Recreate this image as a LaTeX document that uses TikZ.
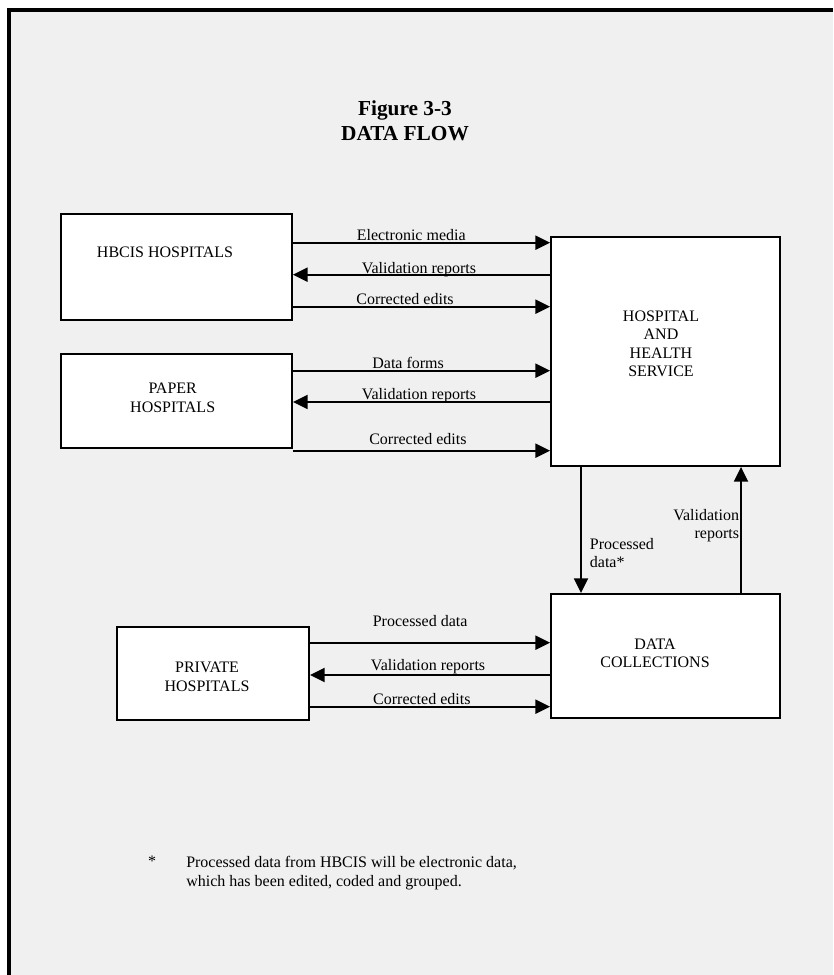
\documentclass[tikz,border=0pt]{standalone}
\usepackage{fontspec}
\setmainfont{Liberation Serif}
\usetikzlibrary{arrows.meta,positioning}
\definecolor{pagegrey}{HTML}{F0F0F0}
\tikzset{
  hospbox/.style={draw=black,fill=white,line width=1.4pt,inner sep=0pt},
  boxtext/.style={align=center,font=\fontsize{12}{13.9}\selectfont,inner sep=0pt},
  flowarrow/.style={-{Triangle[length=11pt,width=10.5pt]},line width=1.4pt},
  flowlabel/.style={anchor=base,inner sep=0pt,yshift=#1,font=\fontsize{12}{13.9}\selectfont},
  flowlabel/.default=1.5pt,
  sidelabel/.style={inner sep=0pt,font=\fontsize{12}{13.9}\selectfont},
  framerule/.style={line width=3pt,draw=black}
}

\begin{document}
\begin{tikzpicture}[x=0.75pt,y=0.75pt]
  \useasboundingbox (0,0) rectangle (833,975);
  \fill[white] (0,0) rectangle (833,975);
  \fill[pagegrey] (7,0) rectangle (833,967);
  \draw[framerule] (9,0) -- (9,967);
  \draw[framerule] (7,965) -- (833,965);

  % title
  \node[font=\fontsize{16}{18.5}\selectfont\bfseries,align=center,anchor=south,inner sep=0pt] (title) at (405,834) {Figure 3-3\\DATA FLOW};

  % boxes
  \node[hospbox,minimum width=173.25pt,minimum height=79.5pt] (hbcis) at (176.5,708) {};
  \node[hospbox,minimum width=173.25pt,minimum height=70.5pt] (paper) at (176.5,574) {};
  \node[hospbox,minimum width=171.75pt,minimum height=171.75pt] (hhs) at (665.5,623.5) {};
  \node[hospbox,minimum width=144pt,minimum height=69.75pt] (private) at (213,301.5) {};
  \node[hospbox,minimum width=171.75pt,minimum height=93pt] (dc) at (665.5,319) {};

  \node[boxtext] (hbcistext) at (165,722.3) {HBCIS HOSPITALS};
  \node[boxtext] (papertext) at (172.7,577) {PAPER\\HOSPITALS};
  \node[boxtext] (hhstext) at (661,631) {HOSPITAL\\AND\\HEALTH\\SERVICE};
  \node[boxtext] (privatetext) at (207,298) {PRIVATE\\HOSPITALS};
  \node[boxtext] (dctext) at (655,321.5) {DATA\\COLLECTIONS};

  % HBCIS flows
  \draw[flowarrow] (hbcis.east |- 0,732.3) -- node[flowlabel=1.5pt,pos=0.46] {Electronic media} (hhs.west |- 0,732.3);
  \draw[flowarrow] (hhs.west |- 0,700.3) -- node[flowlabel=1pt,pos=0.51] {Validation reports} (hbcis.east |- 0,700.3);
  \draw[flowarrow] (hbcis.east |- 0,668.3) -- node[flowlabel=1.3pt,pos=0.436] {Corrected edits} (hhs.west |- 0,668.3);

  % paper flows
  \draw[flowarrow] (paper.east |- 0,604.3) -- node[flowlabel=1.3pt,pos=0.448] {Data forms} (hhs.west |- 0,604.3);
  \draw[flowarrow] (hhs.west |- 0,573) -- node[flowlabel=2.2pt,pos=0.51] {Validation reports} (paper.east |- 0,573);
  \draw[flowarrow] (paper.east |- 0,524.3) -- node[flowlabel=4.3pt,pos=0.486] {Corrected edits} (hhs.west |- 0,524.3);

  % private flows
  \draw[flowarrow] (private.east |- 0,332.3) -- node[flowlabel=12.5pt,pos=0.459] {Processed data} (dc.west |- 0,332.3);
  \draw[flowarrow] (dc.west |- 0,300) -- node[flowlabel=3pt,pos=0.508] {Validation reports} (private.east |- 0,300);
  \draw[flowarrow] (private.east |- 0,268.3) -- node[flowlabel=1.8pt,pos=0.466] {Corrected edits} (dc.west |- 0,268.3);

  % between hhs and data collections
  \draw[flowarrow] (581,0 |- hhs.south) -- node[sidelabel,pos=0.558,anchor=north west,xshift=6pt,align=left] {Processed\\data*} (581,0 |- dc.north);
  \draw[flowarrow] (741,0 |- dc.north) -- node[sidelabel,pos=0.672,anchor=north east,xshift=-0.75pt,align=right] {Validation\\reports} (741,0 |- hhs.south);

  % footnote
  \node[sidelabel,anchor=base] (star) at (152,108) {*};
  \node[font=\fontsize{12}{14.25}\selectfont,align=left,anchor=north west,inner sep=0pt] (footnote) at (186,119) {Processed data from HBCIS will be electronic data,\\which has been edited, coded and grouped.};
\end{tikzpicture}
\end{document}
